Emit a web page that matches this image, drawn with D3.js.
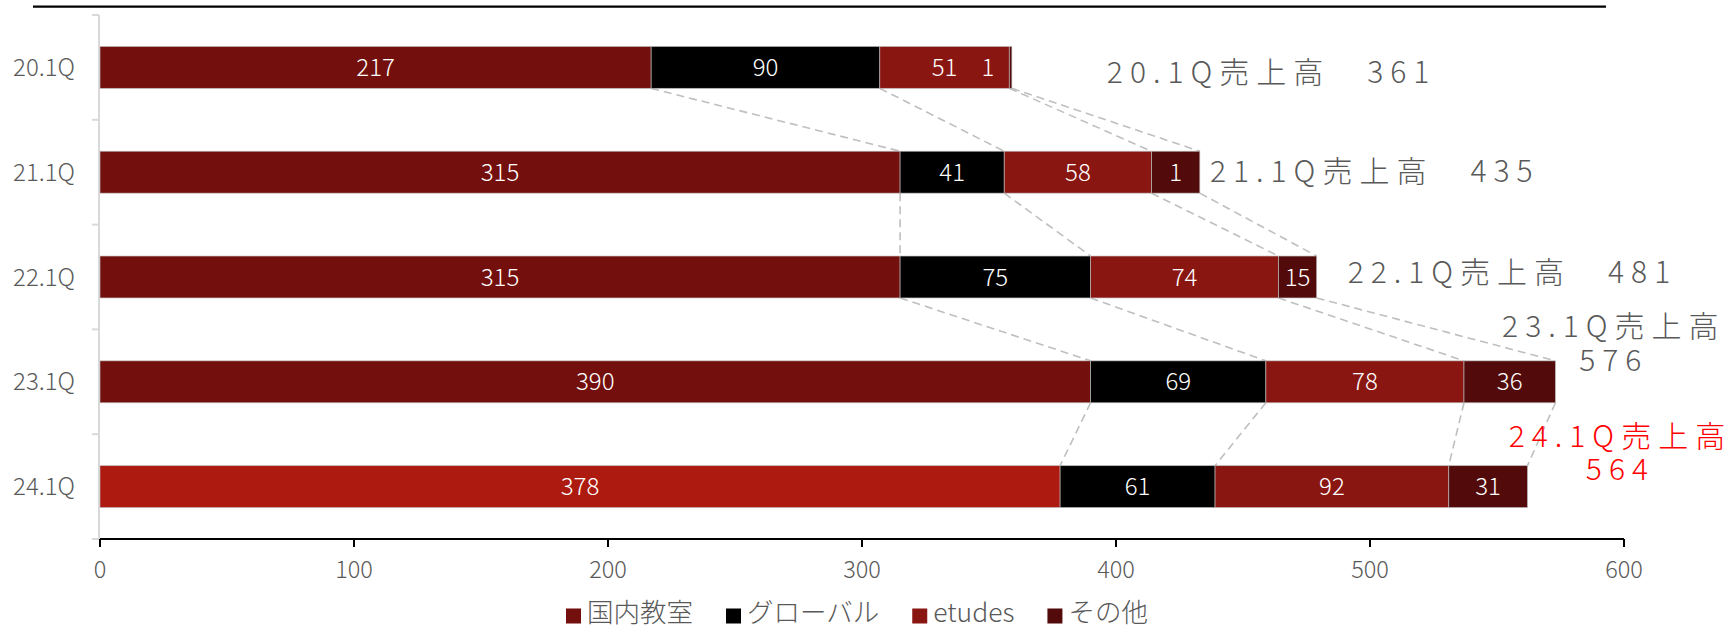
<!DOCTYPE html>
<html><head><meta charset="utf-8">
<script src="https://cdn.jsdelivr.net/npm/d3@7"></script>
<style>
body{margin:0;background:#fff;}
svg{display:block;}
text{font-family:"Noto Sans CJK JP","Noto Sans",sans-serif;font-weight:300;}
</style>
</head><body>
<svg id="chart" width="1727" height="626"></svg>
<script>
// ---- data ----
const categories = ["20.1Q","21.1Q","22.1Q","23.1Q","24.1Q"];
const seriesNames = ["国内教室","グローバル","etudes","その他"];
const domestic = [217,315,315,390,378];
const globalSales = [90,41,75,69,61];
const etudes = [51,58,74,78,92];
const other = [1,19,15,36,31];
const otherLabels = ["1","1","15","36","31"];
const totals = [361,435,481,576,564];
const xTicks = [0,100,200,300,400,500,600];

// ---- styling / layout ----
const seriesColors = ["#730F0C","#000000","#8A1612","#530A0A"];
const highlightColor = "#AD1A10";
const grayText = "#595959";
// annotation anchors (value units) and vertical offsets (px from bar centre)
const annX = [396.4, 437.0, 491.2, 596.0, 598.6];
const annAnchor = ["start","start","start","middle","middle"];
const annDy = [[15.4],[9.6],[5.8],[-45,-11],[-40,-7]];
const annColor = [grayText,grayText,grayText,grayText,"#FF0000"];

const svg = d3.select("#chart");
const x = d3.scaleLinear().domain([0,600]).range([100,1624]);
const y = d3.scaleBand().domain(categories).range([15,539]).paddingInner(0.6).paddingOuter(0.3);
const bw = y.bandwidth(), step = y.step();

const rows = categories.map((c,i)=>({cat:c,"国内教室":domestic[i],"グローバル":globalSales[i],"etudes":etudes[i],"その他":other[i]}));
const stacked = d3.stack().keys(seriesNames)(rows);

// top rule
svg.append("line").attr("x1",33).attr("x2",1606).attr("y1",6.7).attr("y2",6.7)
  .attr("stroke","#000").attr("stroke-width",2.2);

// y axis (light gray) with boundary ticks
const yTop = y.range()[0], yBot = y.range()[1];
svg.append("line").attr("x1",x(0)-1).attr("x2",x(0)-1).attr("y1",yTop).attr("y2",yBot)
  .attr("stroke","#d9d9d9").attr("stroke-width",2);
svg.selectAll(".ytick").data(d3.range(categories.length+1)).join("line")
  .attr("x1",x(0)-8).attr("x2",x(0)-1)
  .attr("y1",i=>yTop+i*step).attr("y2",i=>yTop+i*step)
  .attr("stroke","#d9d9d9").attr("stroke-width",2);

// category labels
svg.selectAll(".cat").data(categories).join("text")
  .attr("x",75).attr("y",d=>y(d)+bw/2+8.6)
  .attr("text-anchor","end").attr("fill",grayText).attr("font-size",24)
  .text(d=>d);

// connectors
const conns = [];
for(let i=0;i<categories.length-1;i++){
  for(let k=0;k<seriesNames.length;k++){
    conns.push({x1:x(stacked[k][i][1]),y1:y(categories[i])+bw,x2:x(stacked[k][i+1][1]),y2:y(categories[i+1])});
  }
}
svg.selectAll(".conn").data(conns).join("line")
  .attr("x1",d=>d.x1).attr("y1",d=>d.y1).attr("x2",d=>d.x2).attr("y2",d=>d.y2)
  .attr("stroke","#bfbfbf").attr("stroke-width",1.6).attr("stroke-dasharray","8,5");

// bars
stacked.forEach((s,k)=>{
  svg.append("g").selectAll("rect").data(s).join("rect")
    .attr("x",d=>x(d[0])).attr("width",d=>x(d[1])-x(d[0]))
    .attr("y",d=>y(d.data.cat)).attr("height",bw)
    .attr("fill",(d,i)=> (k===0 && i===categories.length-1) ? highlightColor : seriesColors[k])
    .attr("stroke","rgba(190,190,190,0.8)").attr("stroke-width",0.8);
});

// data labels
stacked.forEach((s,k)=>{
  svg.append("g").selectAll("text").data(s).join("text")
    .each(function(d,i){
      const x0=x(d[0]), x1=x(d[1]);
      const narrow = (x1-x0) < 10;
      d3.select(this)
        .attr("x", narrow ? x0-15 : (x0+x1)/2)
        .attr("text-anchor", narrow ? "end" : "middle")
        .attr("y", y(d.data.cat)+bw/2+8.6)
        .text(k===3 ? otherLabels[i] : (d[1]-d[0]));
    })
    .attr("fill","#fff").attr("font-size",24);
});

// x axis
svg.append("line").attr("x1",x(0)).attr("x2",x(600)).attr("y1",yBot).attr("y2",yBot)
  .attr("stroke","#000").attr("stroke-width",2);
svg.selectAll(".xtick").data(xTicks).join("line")
  .attr("x1",d=>x(d)).attr("x2",d=>x(d)).attr("y1",yBot).attr("y2",yBot+8)
  .attr("stroke","#000").attr("stroke-width",2);
svg.selectAll(".xlab").data(xTicks).join("text")
  .attr("x",d=>x(d)).attr("y",578).attr("text-anchor","middle")
  .attr("fill",grayText).attr("font-size",23.5).text(d=>d);

// total annotations
categories.forEach((c,i)=>{
  const lines = annDy[i].length===1 ? [`${c}売上高　${totals[i]}`] : [`${c}売上高`, `${totals[i]}`];
  const cy = y(c)+bw/2;
  lines.forEach((t,j)=>{
    svg.append("text").attr("x",x(annX[i])).attr("y",cy+annDy[i][j])
      .attr("text-anchor",annAnchor[i]).attr("fill",annColor[i])
      .attr("font-size",30).attr("letter-spacing",7).text(t);
  });
});

// legend
const leg = svg.append("g");
let lx = 566;
seriesNames.forEach((n,k)=>{
  leg.append("rect").attr("x",lx).attr("y",608.5).attr("width",15).attr("height",15).attr("fill",seriesColors[k]);
  const t = leg.append("text").attr("x",lx+21).attr("y",622).attr("fill",grayText).attr("font-size",26.5).text(n);
  lx += 21 + t.node().getComputedTextLength() + 33;
});
</script>
</body></html>
